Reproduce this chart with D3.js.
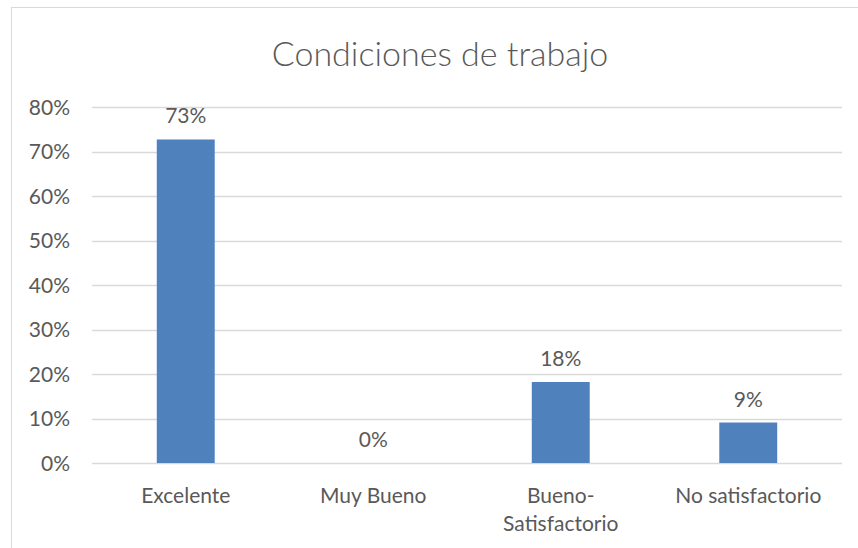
<!DOCTYPE html>
<html>
<head>
<meta charset="utf-8">
<script src="https://cdn.jsdelivr.net/npm/d3@7"></script>
<style>
  html, body { margin: 0; padding: 0; background: #fff; }
  svg { display: block; }
  text { font-family: Lato, "Open Sans", sans-serif; fill: #595959; }
</style>
</head>
<body>
<svg id="chart" width="858" height="548"></svg>
<script>
const title = "Condiciones de trabajo";
const categories = ["Excelente", "Muy Bueno", "Bueno-Satisfactorio", "No satisfactorio"];
const categoryLines = [["Excelente"], ["Muy Bueno"], ["Bueno-", "Satisfactorio"], ["No satisfactorio"]];
const values = [0.727, 0, 0.182, 0.091];
const valueLabels = ["73%", "0%", "18%", "9%"];
const yTicks = [0, 0.1, 0.2, 0.3, 0.4, 0.5, 0.6, 0.7, 0.8];

const svg = d3.select("#chart");
const W = 858, H = 548;
const m = { left: 92, right: 16, top: 107, bottom: 85 };

svg.append("rect")
  .attr("x", 11.5).attr("y", 7.5)
  .attr("width", W).attr("height", H)
  .attr("fill", "none").attr("stroke", "#d9d9d9").attr("stroke-width", 1);

const x = d3.scaleBand()
  .domain(categories)
  .range([m.left, W - m.right])
  .paddingInner(0.691)
  .paddingOuter(0.3455);

const y = d3.scaleLinear()
  .domain([0, 0.8])
  .range([H - m.bottom, m.top]);

// gridlines
svg.append("g")
  .selectAll("line")
  .data(yTicks)
  .join("line")
  .attr("x1", m.left).attr("x2", W - m.right)
  .attr("y1", d => Math.round(y(d)) + 0.5)
  .attr("y2", d => Math.round(y(d)) + 0.5)
  .attr("stroke", "#d9d9d9").attr("stroke-width", 1.5);

// y axis labels
const yAxis = d3.axisLeft(y).tickValues(yTicks).tickFormat(d3.format(".0%")).tickSize(0).tickPadding(0);
const ya = svg.append("g").attr("transform", `translate(${m.left - 22},0)`).call(yAxis);
ya.select(".domain").remove();
ya.selectAll("text").style("font-size", "21px").attr("fill", "#595959").attr("dy", "0.35em")
  .style("font-family", "Lato, sans-serif");

// bars
svg.append("g")
  .selectAll("rect")
  .data(values)
  .join("rect")
  .attr("x", (d, i) => x(categories[i]))
  .attr("y", d => y(d))
  .attr("width", x.bandwidth())
  .attr("height", d => y(0) - y(d))
  .attr("fill", "#4f81bd");

// value labels
svg.append("g")
  .selectAll("text")
  .data(values)
  .join("text")
  .attr("x", (d, i) => x(categories[i]) + x.bandwidth() / 2)
  .attr("y", d => y(d) - 16)
  .attr("text-anchor", "middle")
  .style("font-size", "21px")
  .text((d, i) => valueLabels[i]);

// category labels
const cat = svg.append("g")
  .selectAll("text")
  .data(categories)
  .join("text")
  .attr("x", d => x(d) + x.bandwidth() / 2)
  .attr("y", 503)
  .attr("text-anchor", "middle")
  .style("font-size", "21px");
cat.selectAll("tspan")
  .data((d, i) => categoryLines[i])
  .join("tspan")
  .attr("x", function() { return d3.select(this.parentNode).attr("x"); })
  .attr("dy", (d, j) => j === 0 ? 0 : 28)
  .text(d => d);

// title
svg.append("text")
  .attr("x", 440).attr("y", 66)
  .attr("text-anchor", "middle")
  .style("font-size", "34px")
  .style("font-weight", "300")
  .text(title);
</script>
</body>
</html>
